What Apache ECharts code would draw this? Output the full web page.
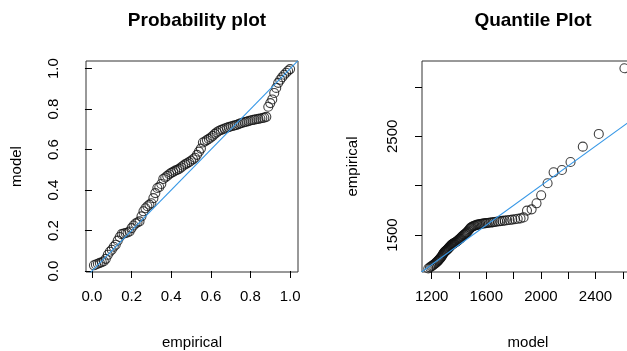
<!DOCTYPE html>
<html>
<head>
<meta charset="utf-8">
<script src="https://cdn.jsdelivr.net/npm/echarts@6/dist/echarts.min.js"></script>
<style>
  html, body { margin: 0; padding: 0; background: #fff; }
  #chart { width: 627px; height: 351px; }
</style>
</head>
<body>
<div id="chart"></div>
<script>
/* Probability plot: empirical probabilities vs fitted model CDF */
var ppEmpirical = [
  0.01, 0.02, 0.03, 0.04, 0.05, 0.06, 0.07, 0.08, 0.09, 0.10,
  0.11, 0.12, 0.13, 0.14, 0.15, 0.16, 0.17, 0.18, 0.19, 0.20,
  0.21, 0.22, 0.23, 0.24, 0.25, 0.26, 0.27, 0.28, 0.29, 0.30,
  0.31, 0.32, 0.33, 0.34, 0.35, 0.36, 0.37, 0.38, 0.39, 0.40,
  0.41, 0.42, 0.43, 0.44, 0.45, 0.46, 0.47, 0.48, 0.49, 0.50,
  0.51, 0.52, 0.53, 0.54, 0.55, 0.56, 0.57, 0.58, 0.59, 0.60,
  0.61, 0.62, 0.63, 0.64, 0.65, 0.66, 0.67, 0.68, 0.69, 0.70,
  0.71, 0.72, 0.73, 0.74, 0.75, 0.76, 0.77, 0.78, 0.79, 0.80,
  0.81, 0.82, 0.83, 0.84, 0.85, 0.86, 0.87, 0.88, 0.89, 0.90,
  0.91, 0.92, 0.93, 0.94, 0.95, 0.96, 0.97, 0.98, 0.99, 1.00
];
var ppModel = [
  0.028, 0.032, 0.036, 0.040, 0.043, 0.048, 0.060, 0.080, 0.095, 0.105,
  0.120, 0.130, 0.150, 0.168, 0.182, 0.185, 0.188, 0.190, 0.195, 0.212,
  0.225, 0.235, 0.240, 0.245, 0.270, 0.295, 0.310, 0.320, 0.328, 0.335,
  0.360, 0.385, 0.410, 0.415, 0.430, 0.455, 0.462, 0.470, 0.478, 0.485,
  0.490, 0.496, 0.500, 0.505, 0.512, 0.520, 0.527, 0.532, 0.538, 0.545,
  0.552, 0.560, 0.574, 0.590, 0.605, 0.635, 0.640, 0.647, 0.653, 0.660,
  0.668, 0.678, 0.685, 0.692, 0.697, 0.700, 0.704, 0.708, 0.711, 0.714,
  0.717, 0.720, 0.722, 0.726, 0.730, 0.733, 0.736, 0.738, 0.741, 0.744,
  0.746, 0.748, 0.750, 0.752, 0.754, 0.756, 0.758, 0.762, 0.812, 0.830,
  0.848, 0.880, 0.905, 0.930, 0.945, 0.958, 0.970, 0.980, 0.990, 0.998
];

/* Quantile plot: model quantiles vs sorted empirical values */
var qqModel = [
  1175, 1187, 1197, 1206, 1214, 1221, 1228, 1234, 1240, 1246,
  1251, 1256, 1261, 1266, 1271, 1276, 1280, 1284, 1288, 1292,
  1296, 1300, 1304, 1308, 1312, 1316, 1320, 1324, 1328, 1332,
  1336, 1340, 1344, 1348, 1352, 1356, 1360, 1365, 1370, 1375,
  1380, 1385, 1390, 1395, 1400, 1405, 1410, 1415, 1420, 1426,
  1432, 1438, 1444, 1450, 1456, 1462, 1469, 1476, 1483, 1490,
  1497, 1505, 1513, 1521, 1529, 1538, 1547, 1556, 1566, 1576,
  1586, 1597, 1608, 1620, 1632, 1645, 1658, 1672, 1687, 1702,
  1718, 1735, 1753, 1771, 1790, 1810, 1830, 1851, 1873, 1898,
  1932, 1968, 2002, 2049, 2093, 2154, 2217, 2307, 2424, 2612
];
var qqEmpirical = [
  1160, 1172, 1182, 1190, 1198, 1206, 1214, 1222, 1230, 1238,
  1246, 1254, 1262, 1270, 1280, 1290, 1300, 1310, 1318, 1325,
  1330, 1335, 1340, 1345, 1350, 1356, 1362, 1368, 1374, 1380,
  1386, 1392, 1398, 1402, 1406, 1410, 1414, 1418, 1422, 1427,
  1432, 1437, 1442, 1448, 1454, 1460, 1466, 1474, 1482, 1490,
  1497, 1504, 1510, 1516, 1524, 1534, 1546, 1558, 1570, 1578,
  1584, 1590, 1594, 1598, 1602, 1605, 1608, 1611, 1614, 1616,
  1618, 1620, 1622, 1624, 1626, 1628, 1631, 1634, 1637, 1640,
  1643, 1646, 1649, 1652, 1656, 1660, 1664, 1668, 1678, 1747,
  1760, 1821, 1902, 2024, 2135, 2159, 2240, 2395, 2524, 3189
];

/* tick positions and labelled ticks */
var ppTicks = [0, 0.2, 0.4, 0.6, 0.8, 1.0];
var qqXTicks = [1200, 1400, 1600, 1800, 2000, 2200, 2400, 2600];
var qqXLabels = [1200, 1600, 2000, 2400];
var qqYTicks = [1500, 2000, 2500, 3000];
var qqYLabels = [1500, 2500];

var chartInit = function chartInit() {
  var $chartEl = document.getElementById('chart');
  var chart = echarts.init($chartEl, null, { renderer: 'canvas' });

  var font = 'Liberation Sans, Arial, sans-serif';
  var blue = '#3597e6';

  // axis limits (R adds a little padding around the data)
  var ppX = [-0.03, 1.04], ppY = [-0.005, 1.038];
  var qqX = [1129, 2682], qqY = [1125, 3263];

  var zip = function (xs, ys) {
    return xs.map(function (x, i) { return [x, ys[i]]; });
  };
  // y = x reference line spanning the axis ranges
  var diag = function (xr, yr) {
    var lo = Math.min(xr[0], yr[0]);
    var hi = Math.max(xr[1], yr[1]);
    return [[lo, lo], [hi, hi]];
  };

  var baseAxis = function (range, ticks, labels, fmt) {
    return {
      type: 'value',
      min: range[0],
      max: range[1],
      splitLine: { show: false },
      axisLine: { show: false },
      axisTick: {
        show: true,
        length: 7,
        customValues: ticks,
        lineStyle: { color: '#000', width: 1 }
      },
      axisLabel: {
        customValues: labels,
        color: '#000',
        fontSize: 15,
        fontFamily: font,
        formatter: fmt
      },
      nameLocation: 'middle',
      nameTextStyle: { color: '#000', fontSize: 15, fontFamily: font }
    };
  };

  var oneDec = function (v) { return v.toFixed(1); };
  var plain = function (v) { return String(v); };

  var xLeft = baseAxis(ppX, ppTicks, ppTicks, oneDec);
  xLeft.gridIndex = 0; xLeft.name = 'empirical'; xLeft.nameGap = 63;
  xLeft.axisLabel.margin = 17;

  var yLeft = baseAxis(ppY, ppTicks, ppTicks, oneDec);
  yLeft.gridIndex = 0; yLeft.name = 'model'; yLeft.nameGap = 62;
  yLeft.axisLabel.rotate = 90; yLeft.axisLabel.margin = 25;

  var xRight = baseAxis(qqX, qqXTicks, qqXLabels, plain);
  xRight.gridIndex = 1; xRight.name = 'model'; xRight.nameGap = 63;
  xRight.axisLabel.margin = 17;

  var yRight = baseAxis(qqY, qqYTicks, qqYLabels, plain);
  yRight.gridIndex = 1; yRight.name = 'empirical'; yRight.nameGap = 62;
  yRight.axisLabel.rotate = 90; yRight.axisLabel.margin = 22;

  var points = function (idx, data) {
    return {
      type: 'scatter',
      xAxisIndex: idx,
      yAxisIndex: idx,
      data: data,
      symbol: 'circle',
      symbolSize: 9,
      itemStyle: { color: 'rgba(0,0,0,0)', borderColor: '#111', borderWidth: 1.1 },
      silent: true
    };
  };
  var refLine = function (idx, data) {
    return {
      type: 'line',
      xAxisIndex: idx,
      yAxisIndex: idx,
      data: data,
      symbol: 'none',
      clip: true,
      lineStyle: { color: blue, width: 1.1 },
      z: 3,
      silent: true
    };
  };

  var gridBox = function (left) {
    return {
      left: left, top: 61, width: 212, height: 211,
      outerBoundsMode: 'none',
      containLabel: false,
      show: true,
      borderColor: '#333',
      borderWidth: 1,
      backgroundColor: 'transparent'
    };
  };

  var option = {
    animation: false,
    backgroundColor: '#fff',
    title: [{
      text: 'Probability plot',
      left: 192,
      top: 6,
      textAlign: 'center',
      textStyle: { fontSize: 19, fontWeight: 'bold', color: '#000', fontFamily: font }
    }, {
      text: 'Quantile Plot',
      left: 528,
      top: 6,
      textAlign: 'center',
      textStyle: { fontSize: 19, fontWeight: 'bold', color: '#000', fontFamily: font }
    }],
    grid: [gridBox(86), gridBox(422)],
    xAxis: [xLeft, xRight],
    yAxis: [yLeft, yRight],
    series: [
      points(0, zip(ppEmpirical, ppModel)),
      refLine(0, diag(ppX, ppY)),
      points(1, zip(qqModel, qqEmpirical)),
      refLine(1, diag(qqX, qqY))
    ]
  };

  chart.setOption(option);
};

chartInit();
</script>
</body>
</html>
